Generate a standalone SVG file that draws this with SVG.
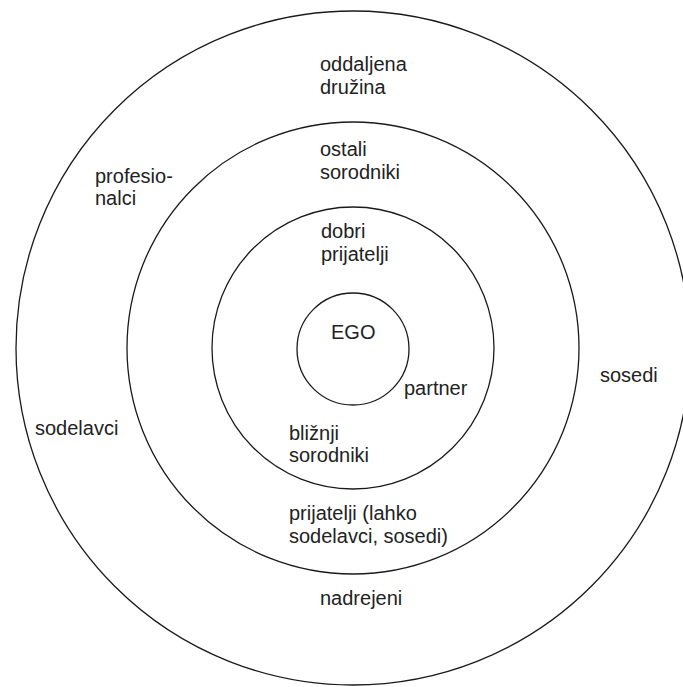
<svg xmlns="http://www.w3.org/2000/svg" width="683" height="687" viewBox="0 0 683 687">
<style>
.ring{fill:none;stroke:#1a1a1a;stroke-width:1.3}
.t{font-family:"Liberation Sans",Arial,sans-serif;font-size:20px;fill:#222}
</style>
<rect width="683" height="687" fill="#fff"/>
<g id="ring-outer"><circle class="ring" cx="353" cy="348" r="337"/></g>
<g id="ring-2"><circle class="ring" cx="353" cy="348" r="226"/></g>
<g id="ring-3"><circle class="ring" cx="353" cy="348" r="141"/></g>
<g id="ego"><circle class="ring" cx="353" cy="349" r="56"/><text class="t" x="331" y="339">EGO</text></g>
<g id="labels">
<text class="t" x="320" y="71">oddaljena</text>
<text class="t" x="320" y="94">družina</text>
<text class="t" x="320" y="156">ostali</text>
<text class="t" x="320" y="179">sorodniki</text>
<text class="t" x="95" y="183">profesio-</text>
<text class="t" x="95" y="205">nalci</text>
<text class="t" x="35" y="435">sodelavci</text>
<text class="t" x="321" y="238">dobri</text>
<text class="t" x="321" y="261">prijatelji</text>
<text class="t" x="404" y="395">partner</text>
<text class="t" x="289" y="440">bližnji</text>
<text class="t" x="289" y="462">sorodniki</text>
<text class="t" x="289" y="520">prijatelji (lahko</text>
<text class="t" x="289" y="543">sodelavci, sosedi)</text>
<text class="t" x="320" y="605">nadrejeni</text>
<text class="t" x="600" y="382">sosedi</text>
</g>
<g id="connectors"></g>
</svg>
